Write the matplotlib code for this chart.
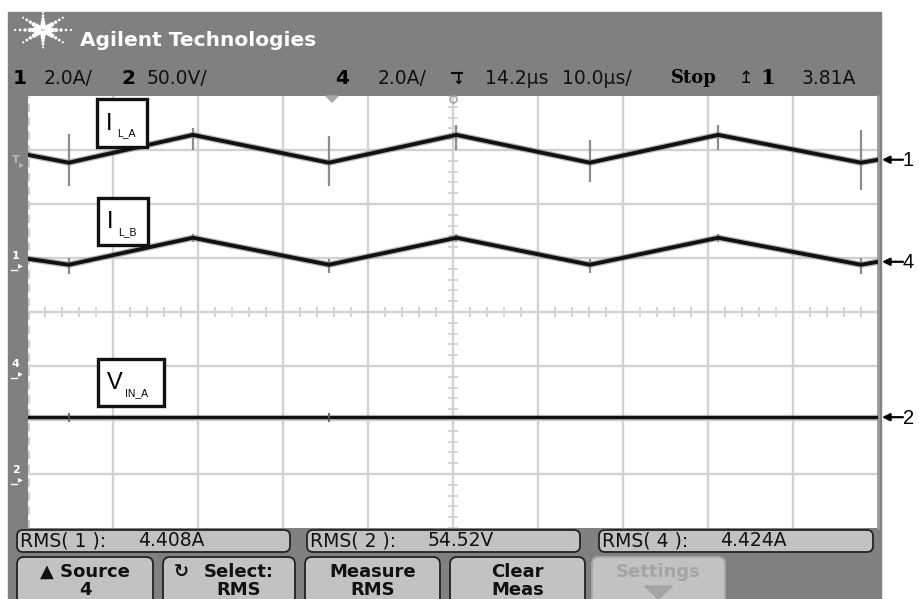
import numpy as np
import matplotlib.pyplot as plt
from matplotlib.patches import Rectangle, FancyBboxPatch, Polygon

# ---- scope settings ------------------------------------------------------
time_per_div = 10.0            # us/div, trigger in the middle of the screen
ch1_scale, ch1_offset = 2.0, 0.93     # A/div, ground position in divisions
ch4_scale, ch4_offset = 2.0, -1.07
ch2_scale, ch2_offset = 50.0, -3.04   # V/div

# ---- traces -------------------------------------------------------------
t_vert = [-50.0, -45.2, -30.6, -14.6, 0.4, 16.1, 31.2, 48.0, 50.0]   # us
i_la = [3.96, 3.67, 4.70, 3.67, 4.70, 3.67, 4.70, 3.67, 3.78]       # ch1, A
i_lb = [4.11, 3.89, 4.89, 3.89, 4.89, 3.89, 4.89, 3.89, 4.00]       # ch4, A
t_vin = [-50.0, 50.0]
v_in_a = [54.6, 54.6]                                               # ch2, V

# switching spikes (time, low/high excursion about the trace)
spike_t = [-45.2, -30.6, -14.6, 0.4, 16.1, 31.2, 48.0]
spike_la_lo = [-0.85, -0.55, -0.85, -0.55, -0.70, -0.55, -1.00]
spike_la_hi = [1.05, 0.25, 1.00, 0.35, 0.85, 0.35, 1.20]
spike_lb_lo = [-0.35, -0.15, -0.30, -0.15, -0.30, -0.15, -0.35]
spike_lb_hi = [0.25, 0.15, 0.20, 0.15, 0.20, 0.15, 0.25]

# ---- readouts ------------------------------------------------------------
header = [("1", "2.0A/"), ("2", "50.0V/"), ("4", "2.0A/")]
delay, timebase, trig_level = "14.2µs", "10.0µs/", "3.81A"
rms_names = ["RMS( 1 ):", "RMS( 2 ):", "RMS( 4 ):"]
rms_values = ["4.408A", "54.52V", "4.424A"]
softkeys = [("▲ Source", "4"), ("Select:", "RMS"), ("Measure", "RMS"),
            ("Clear", "Meas"), ("Settings", "")]
trace_names = [("I", "L_A"), ("I", "L_B"), ("V", "IN_A")]
marker_names = ["1", "4", "2"]

W, H = 920, 599
PANEL = "#808080"
GRID = "#d2d2d2"
KEY = "#c2c2c2"

fig = plt.figure(figsize=(W / 100, H / 100), dpi=100)
fig.patch.set_facecolor("white")

bg = fig.add_axes([0, 0, 1, 1], zorder=0)
bg.set_xlim(0, W)
bg.set_ylim(H, 0)
bg.axis("off")
bg.add_patch(Rectangle((8, 12), 873, 600, color=PANEL))

# ---- graticule -----------------------------------------------------------
ax = fig.add_axes([28 / W, 1 - 528 / H, 850 / W, 432 / H], zorder=1)
ax.set_xlim(-5 * time_per_div, 5 * time_per_div)
ax.set_ylim(-4, 4)
ax.set_facecolor("white")
ax.set_xticks([])
ax.set_yticks([])
for name, s in ax.spines.items():
    s.set_visible(name == "right")
ax.spines["right"].set_color("#9a9a9a")
ax.spines["right"].set_linewidth(2)
for x in np.arange(-4, 5) * time_per_div:
    ax.axvline(x, color=GRID, lw=1.7, zorder=1)
for y in range(-3, 4):
    ax.axhline(y, color=GRID, lw=1.7, zorder=1)
ax.vlines(np.arange(-50, 50.1, 2), -0.09, 0.09, color=GRID, lw=1.3, zorder=1)
ax.hlines(np.arange(-4, 4.01, 0.2), -0.55, 0.55, color=GRID, lw=1.3, zorder=1)
ax.axvline(-50, color="#c8c8c8", lw=2, ls=(0, (3, 2)), zorder=1)


def to_div(v, scale, offset):
    return np.asarray(v) / scale + offset


for vals, lo, hi, sc, off in [(i_la, spike_la_lo, spike_la_hi, ch1_scale, ch1_offset),
                              (i_lb, spike_lb_lo, spike_lb_hi, ch4_scale, ch4_offset)]:
    base = np.interp(spike_t, t_vert, vals)
    ax.vlines(spike_t, to_div(base + np.array(lo), sc, off),
              to_div(base + np.array(hi), sc, off), color="#8c8c8c", lw=1.6, zorder=2)
    y = to_div(vals, sc, off)
    ax.plot(t_vert, y, color="#7a7a7a", lw=4.6, alpha=0.55, zorder=3,
            solid_joinstyle="miter")
    ax.plot(t_vert, y, color="#111111", lw=2.8, zorder=4, solid_joinstyle="miter")

y2 = to_div(v_in_a, ch2_scale, ch2_offset)
ax.plot(t_vin, y2, color="#7a7a7a", lw=3.8, alpha=0.55, zorder=3)
ax.plot(t_vin, y2, color="#111111", lw=2.2, zorder=4)
ax.vlines([-45.2, -14.6], y2[0] - 0.08, y2[0] + 0.08, color="#555555", lw=1.2, zorder=4)

# ---- overlay in pixel coordinates ---------------------------------------
ov = fig.add_axes([0, 0, 1, 1], zorder=2)
ov.set_xlim(0, W)
ov.set_ylim(H, 0)
ov.axis("off")
ov.patch.set_alpha(0)

# logo
cx, cy = 43, 30
for ang in np.arange(0, 360, 45):
    a = np.deg2rad(ang)
    r = np.array([5, 9, 13, 18, 23, 28])
    ov.scatter(cx + r * np.cos(a), cy - r * np.sin(a) * 0.62,
               s=[16, 13, 10, 6, 4, 2.5], color="white", lw=0, zorder=5)
ov.text(80, 40, "Agilent Technologies", color="white", fontsize=14.5,
        fontweight="bold", va="center", ha="left", family="DejaVu Sans")

# channel readouts
ROW = 78
xs = [(13, 44), (121, 147), (335, 378)]
for (num, txt), (xn, xt) in zip(header, xs):
    ov.text(xn, ROW, num, fontsize=14.5, fontweight="bold", va="center", ha="left")
    ov.text(xt, ROW, txt, fontsize=13.5, va="center", ha="left", color="#111111")
ov.text(452, ROW + 2, "↓", fontsize=10, fontweight="bold", va="center", ha="left")
ov.plot([452, 462], [ROW - 5, ROW - 5], color="black", lw=1.5)
ov.text(485, ROW, delay, fontsize=13.5, va="center", ha="left", color="#111111")
ov.text(562, ROW, timebase, fontsize=13.5, va="center", ha="left", color="#111111")
ov.text(671, ROW, "Stop", fontsize=13, fontweight="bold", va="center", ha="left",
        family="DejaVu Serif")
ov.text(738, ROW, "↥", fontsize=12.5, va="center", ha="left")
ov.text(760, ROW, "1", fontsize=15, fontweight="bold", va="center", ha="left",
        family="DejaVu Serif")
ov.text(802, ROW, trig_level, fontsize=13.5, va="center", ha="left", color="#111111")

# top-edge markers
ov.add_patch(Polygon([[326, 96], [338, 96], [332, 102]], color="#a8a8a8"))
ov.plot([453], [99], marker="o", ms=5, mfc="none", mec="#a8a8a8", mew=1.2)

# left strip markers
ov.text(12, 160, "T", fontsize=8, color="#b8b8b8", fontweight="bold", va="center")
ov.text(19, 164, "▸", fontsize=7, color="#b8b8b8", va="center")
for name, off in zip(["1", "4", "2"], [ch1_offset, ch4_offset, ch2_offset]):
    yp = 312 - off * 54
    ov.text(12, yp - 6, name, fontsize=8, color="white", fontweight="bold", va="center")
    ov.text(18, yp + 3, "▸", fontsize=7, color="white", va="center")
    ov.plot([11, 17], [yp + 8, yp + 8], color="white", lw=1)

# trace label boxes
boxes = [(97, 99, 50, 48), (98, 198, 50, 47), (98, 359, 66, 47)]
for (main, sub), (bx, by, bw, bh) in zip(trace_names, boxes):
    ov.add_patch(Rectangle((bx, by), bw, bh, fill=True, fc="white", ec="#111111",
                           lw=2.4, zorder=6))
    ov.text(bx + 9, by + bh * 0.52, main, fontsize=17, family="Liberation Sans",
            va="center", ha="left", zorder=7)
    ov.text(bx + (20 if main == "I" else 27), by + bh * 0.72, sub,
            fontsize=7.5, family="Liberation Sans", va="center", ha="left", zorder=7)

# right channel arrows
for name, sc, off, vals in zip(marker_names, [ch1_scale, ch4_scale, ch2_scale],
                                [ch1_offset, ch4_offset, ch2_offset],
                                [i_la[-1], i_lb[-1], v_in_a[-1]]):
    yp = 312 - to_div(vals, sc, off) * 54
    ov.annotate("", xy=(882, yp), xytext=(903, yp),
                arrowprops=dict(arrowstyle="-|>", color="black", lw=1.6,
                                mutation_scale=11, shrinkA=0, shrinkB=0))
    ov.text(903, yp + 1, name, fontsize=14.5, family="Liberation Sans",
            va="center", ha="left")

# measurement bar
rms_x = [(15, 292), (305, 582), (597, 875)]
for lab, val, (x0, x1) in zip(rms_names, rms_values, rms_x):
    ov.add_patch(FancyBboxPatch((x0 + 2, 530), x1 - x0 - 4, 22,
                                boxstyle="round,pad=0,rounding_size=6",
                                fc=KEY, ec="#222222", lw=1.3, zorder=5))
    ov.text(x0 + 5, 541, lab, fontsize=13.5, va="center", ha="left",
            color="#111111", zorder=6)
    ov.text(x0 + 123, 541, val, fontsize=13.5, va="center", ha="left",
            color="#111111", zorder=6)

# softkeys
key_x = [(17, 153), (163, 295), (305, 440), (450, 585), (592, 725)]
for (l1, l2), (x0, x1) in zip(softkeys, key_x):
    grey = l1 == "Settings"
    ov.add_patch(FancyBboxPatch((x0, 557), x1 - x0, 50,
                                boxstyle="round,pad=0,rounding_size=7",
                                fc=KEY, ec="#a8a8a8" if grey else "#222222",
                                lw=1.3, zorder=5))
    xc = (x0 + x1) / 2
    col = "#a4a4a4" if grey else "#111111"
    if l1 == "Select:":
        ov.text(xc + 10, 572, l1, fontsize=13, fontweight="bold", va="center",
                ha="center", color=col, zorder=6)
        ov.text(x0 + 18, 572, "↻", fontsize=13, fontweight="bold", va="center",
                ha="center", color=col, zorder=6)
        ov.text(xc + 10, 590, l2, fontsize=13, fontweight="bold", va="center",
                ha="center", color=col, zorder=6)
    else:
        ov.text(xc, 572, l1, fontsize=13, fontweight="bold", va="center",
                ha="center", color=col, zorder=6)
        if l2:
            ov.text(xc, 590, l2, fontsize=13, fontweight="bold", va="center",
                    ha="center", color=col, zorder=6)
    if grey:
        ov.add_patch(Polygon([[xc - 14, 586], [xc + 14, 586], [xc, 599]],
                             color="#a4a4a4", zorder=6))

fig.savefig("out.png", dpi=100)
